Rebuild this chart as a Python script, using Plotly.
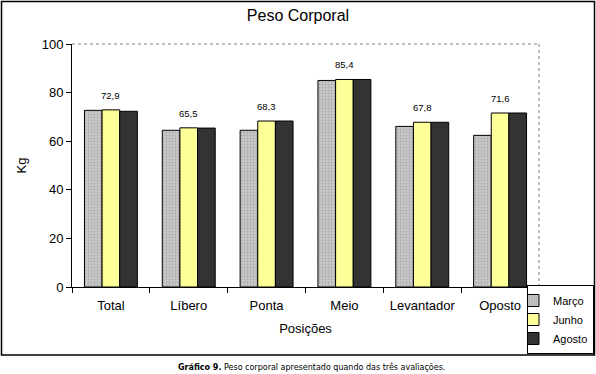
import plotly.graph_objects as go

categories = ["Total", "Líbero", "Ponta", "Meio", "Levantador", "Oposto"]
marco = [72.7, 64.5, 64.5, 85.0, 66.1, 62.4]
junho = [72.9, 65.5, 68.3, 85.4, 67.8, 71.6]
agosto = [72.3, 65.4, 68.3, 85.4, 67.8, 71.6]
junho_labels = ["72,9", "65,5", "68,3", "85,4", "67,8", "71,6"]
y_ticks = [0, 20, 40, 60, 80, 100]

FONT = "Liberation Sans, Arial, sans-serif"

fig = go.Figure()
fig.add_trace(go.Bar(
    name="Março", x=categories, y=marco,
    marker=dict(color="#c0c0c0", line=dict(color="black", width=1),
                pattern=dict(shape=".", fgcolor="#8c8c8c", bgcolor="#c8c8c8", size=3, solidity=0.3)),
))
fig.add_trace(go.Bar(
    name="Junho", x=categories, y=junho,
    marker=dict(color="#ffff99", line=dict(color="black", width=1)),
))
fig.add_trace(go.Bar(
    name="Agosto", x=categories, y=agosto,
    marker=dict(color="#333333", line=dict(color="black", width=1)),
))

# value labels above the Junho bars (middle bar of each group)
label_annotations = [
    dict(x=c, y=v, xref="x", yref="y", text=t, showarrow=False,
         yanchor="bottom", yshift=7, font=dict(family=FONT, size=9.5, color="black"))
    for c, v, t in zip(categories, junho, junho_labels)
]

fig.update_layout(
    width=596, height=374,
    margin=dict(l=72, r=57, t=44, b=87, autoexpand=False),
    paper_bgcolor="white", plot_bgcolor="white",
    barmode="group", bargap=0.32, bargroupgap=0,
    font=dict(family=FONT, size=12, color="black"),
    title=dict(text="Peso Corporal", x=0.5, xanchor="center", y=1 - 15 / 374, yanchor="middle",
               font=dict(family=FONT, size=16, color="black", weight="normal")),
    showlegend=True,
    legend=dict(x=(594 - 72) / 467, y=(287 - 354) / 243, xanchor="right", yanchor="bottom",
                bordercolor="black", borderwidth=1, bgcolor="white",
                font=dict(family=FONT, size=11), tracegroupgap=0,
                itemwidth=30, indentation=-15, traceorder="normal"),
    xaxis=dict(
        type="category", showline=True, linecolor="black", linewidth=1,
        ticks="outside", tickson="boundaries", ticklen=5, tickcolor="black",
        showgrid=False, tickangle=0, tickfont=dict(family=FONT, size=13),
        ticklabelstandoff=6,
        title=dict(text="Posições", font=dict(family=FONT, size=13), standoff=12),
    ),
    yaxis=dict(
        range=[0, 100], tickvals=y_ticks, ticktext=[str(v) for v in y_ticks],
        showline=True, linecolor="black", linewidth=1,
        ticks="outside", ticklen=5, tickcolor="black", showgrid=False, zeroline=False,
        tickfont=dict(family=FONT, size=13),
        title=dict(text="Kg", font=dict(family=FONT, size=13), standoff=12),
    ),
    shapes=[
        dict(type="line", xref="paper", yref="paper", x0=0, x1=1, y0=1, y1=1,
             line=dict(color="#808080", width=1, dash="dot")),
        dict(type="line", xref="paper", yref="paper", x0=1, x1=1, y0=0, y1=1,
             line=dict(color="#808080", width=1, dash="dot")),
        dict(type="rect", xref="paper", yref="paper",
             x0=(1.5 - 72) / 467, x1=(594.5 - 72) / 467,
             y0=(287 - 355) / 243, y1=(287 - 1.5) / 243,
             line=dict(color="black", width=1.5), layer="below"),
    ],
    annotations=label_annotations + [
        dict(text="<b>Gráfico 9.</b> Peso corporal apresentado quando das três avaliações.",
             xref="paper", yref="paper", x=(311 - 72) / 467, y=(287 - 367) / 243,
             xanchor="center", yanchor="middle", showarrow=False,
             font=dict(family="DejaVu Sans, sans-serif", size=8, color="black")),
    ],
)

fig.write_html("out.html", config={"displayModeBar": False},
               post_script="document.body.style.margin='0';document.body.style.overflow='hidden';")
